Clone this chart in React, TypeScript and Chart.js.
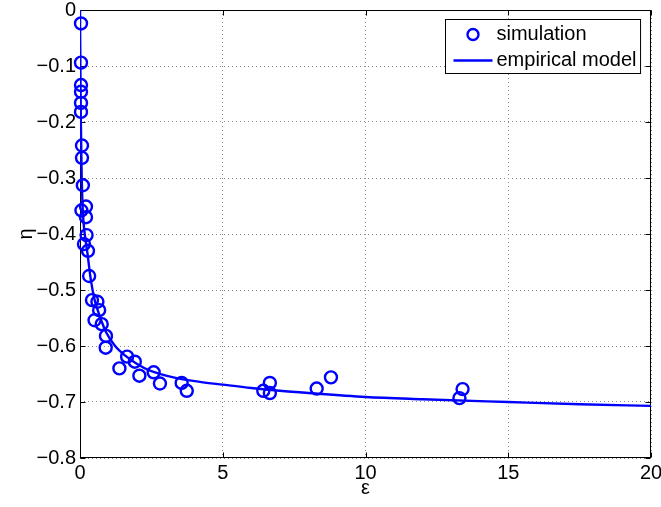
import React, { useEffect, useRef } from 'react';
import { Chart, registerables } from 'chart.js';

Chart.register(...registerables);

// ---- data ----
const simEps = [0.035, 0.035, 0.035, 0.035, 0.035, 0.035, 0.07, 0.07, 0.1, 0.05, 0.21, 0.21, 0.23, 0.14, 0.28, 0.32, 0.42, 0.61, 0.67, 0.51, 0.76, 0.91, 0.9, 1.65, 1.92, 1.38, 2.08, 2.58, 2.8, 3.56, 3.74, 6.42, 6.65, 6.65, 8.29, 8.79, 13.4, 13.29];
const simEta = [-0.024, -0.094, -0.134, -0.146, -0.166, -0.182, -0.242, -0.264, -0.313, -0.358, -0.351, -0.37, -0.402, -0.418, -0.43, -0.475, -0.518, -0.521, -0.536, -0.554, -0.561, -0.582, -0.603, -0.619, -0.628, -0.64, -0.653, -0.647, -0.667, -0.666, -0.68, -0.68, -0.666, -0.684, -0.676, -0.656, -0.677, -0.693];

const modelEps = [0, 0.01, 0.03, 0.06, 0.1, 0.15, 0.25, 0.38, 0.5, 0.62, 0.75, 0.9, 1.23, 1.63, 2.0, 2.45, 3.27, 4.2, 5, 6, 7, 8, 10, 12, 15, 17.5, 20];
const modelEta = [0, -0.08, -0.2, -0.3, -0.36, -0.393, -0.43, -0.482, -0.515, -0.536, -0.555, -0.574, -0.6, -0.619, -0.632, -0.644, -0.656, -0.664, -0.669, -0.675, -0.68, -0.684, -0.691, -0.695, -0.7, -0.704, -0.707];

const seriesLabels = ['simulation', 'empirical model'];
const xTickLabels = ['0', '5', '10', '15', '20'];
const yTickLabels = ['\u22120.8', '\u22120.7', '\u22120.6', '\u22120.5', '\u22120.4', '\u22120.3', '\u22120.2', '\u22120.1', '0'];
const xAxisTitle = '\u03b5';
const yAxisTitle = '\u03b7';

const FONT_FAMILY = '"Liberation Sans", Arial, Helvetica, sans-serif';
const FONT_SIZE = 20;
const BLUE = '#0000ff';

const framePlugin = {
  id: 'frame',
  beforeDatasetsDraw(chart: any) {
    const { ctx, chartArea } = chart;
    const { left, right, top, bottom } = chartArea;
    const xs = chart.scales.x;
    const ys = chart.scales.y;
    ctx.save();
    ctx.strokeStyle = '#000';
    ctx.lineWidth = 1;
    const L = Math.round(left) + 0.5;
    const R = Math.round(right) - 0.5;
    const T = Math.round(top) + 0.5;
    const B = Math.round(bottom) - 0.5;
    ctx.strokeRect(L, T, R - L, B - T);
    const tl = 5;
    ctx.beginPath();
    xs.ticks.forEach((t: any) => {
      const p = Math.round(xs.getPixelForValue(t.value)) + 0.5;
      ctx.moveTo(p, B);
      ctx.lineTo(p, B - tl);
      ctx.moveTo(p, T);
      ctx.lineTo(p, T + tl);
    });
    ys.ticks.forEach((t: any) => {
      const p = Math.round(ys.getPixelForValue(t.value)) + 0.5;
      ctx.moveTo(L, p);
      ctx.lineTo(L + tl, p);
      ctx.moveTo(R, p);
      ctx.lineTo(R - tl, p);
    });
    ctx.stroke();
    ctx.restore();
  },
};

const legendPlugin = {
  id: 'boxLegend',
  afterDraw(chart: any) {
    const { ctx, chartArea } = chart;
    const ds = chart.data.datasets;
    ctx.save();
    ctx.font = `${FONT_SIZE}px ${FONT_FAMILY}`;
    const textW = Math.max(...ds.map((d: any) => ctx.measureText(d.label).width));
    const padL = 8;
    const lineLen = 39;
    const gap = 4;
    const padR = 4;
    const w = padL + lineLen + gap + textW + padR;
    const h = 54;
    const x0 = Math.round(chartArea.right - 11 - w) + 0.5;
    const y0 = Math.round(chartArea.top + 9) + 0.5;
    ctx.fillStyle = '#fff';
    ctx.fillRect(x0, y0, w, h);
    ctx.strokeStyle = '#000';
    ctx.lineWidth = 1;
    ctx.strokeRect(x0, y0, w, h);

    const rows = [y0 + 15, y0 + 41];
    ctx.strokeStyle = BLUE;
    ctx.lineWidth = 2.4;
    ctx.beginPath();
    ctx.arc(x0 + padL + lineLen / 2, rows[0], 5.5, 0, Math.PI * 2);
    ctx.stroke();
    ctx.beginPath();
    ctx.moveTo(x0 + padL, rows[1]);
    ctx.lineTo(x0 + padL + lineLen, rows[1]);
    ctx.stroke();

    ctx.fillStyle = '#000';
    ctx.textAlign = 'left';
    ctx.textBaseline = 'middle';
    ds.forEach((d: any, i: number) => {
      ctx.fillText(d.label, x0 + padL + lineLen + gap, rows[i]);
    });
    ctx.restore();
  },
};

export default function App() {
  const canvasRef = useRef<HTMLCanvasElement | null>(null);

  useEffect(() => {
    const canvas = canvasRef.current;
    if (!canvas) return;
    const font = { family: FONT_FAMILY, size: FONT_SIZE };
    const chart = new Chart(canvas, {
      type: 'scatter',
      data: {
        datasets: [
          {
            label: seriesLabels[0],
            data: simEps.map((x, i) => ({ x, y: simEta[i] })),
            showLine: false,
            pointStyle: 'circle',
            pointRadius: 6,
            pointBorderWidth: 2.4,
            borderColor: BLUE,
            backgroundColor: 'rgba(0,0,0,0)',
            pointBackgroundColor: 'rgba(0,0,0,0)',
            pointBorderColor: BLUE,
            clip: false,
          } as any,
          {
            label: seriesLabels[1],
            data: modelEps.map((x, i) => ({ x, y: modelEta[i] })),
            showLine: true,
            borderColor: BLUE,
            borderWidth: 2.4,
            pointRadius: 0,
            cubicInterpolationMode: 'monotone',
            fill: false,
          } as any,
        ],
      },
      options: {
        responsive: false,
        animation: false,
        devicePixelRatio: 1,
        layout: { padding: { left: 0, right: 10, top: 10, bottom: 0 } },
        plugins: {
          legend: { display: false },
          tooltip: { enabled: false },
        },
        scales: {
          x: {
            type: 'linear',
            position: 'bottom',
            min: 0,
            max: 20,
            ticks: {
              stepSize: 5,
              autoSkip: false,
              maxRotation: 0,
              padding: 3,
              color: '#000',
              font,
              callback: (_v: any, i: number) => xTickLabels[i] ?? '',
            },
            grid: { color: '#8c8c8c', lineWidth: 1, drawTicks: false },
            border: { display: false, dash: [1, 3] },
            title: {
              display: true,
              text: xAxisTitle,
              color: '#000',
              font,
              padding: { top: 0, bottom: 7 },
            },
            afterFit: (s: any) => {
              s.height = 49;
              s.paddingLeft = 0;
              s.paddingRight = 0;
            },
          },
          y: {
            type: 'linear',
            min: -0.8,
            max: 0,
            ticks: {
              stepSize: 0.1,
              autoSkip: false,
              padding: 4,
              color: '#000',
              font,
              callback: (_v: any, i: number) => yTickLabels[i] ?? '',
            },
            grid: { color: '#8c8c8c', lineWidth: 1, drawTicks: false },
            border: { display: false, dash: [1, 3] },
            title: {
              display: true,
              text: yAxisTitle,
              color: '#000',
              font,
              padding: { top: 14, bottom: 0 },
            },
            afterFit: (s: any) => {
              s.width = 80;
              s.paddingTop = 0;
              s.paddingBottom = 0;
            },
          },
        },
      } as any,
      plugins: [framePlugin, legendPlugin],
    });
    return () => chart.destroy();
  }, []);

  return (
    <div style={{ position: 'absolute', left: 0, top: 0, width: 661, height: 507, background: '#fff' }}>
      <canvas ref={canvasRef} width={661} height={507} style={{ display: 'block' }} />
    </div>
  );
}
